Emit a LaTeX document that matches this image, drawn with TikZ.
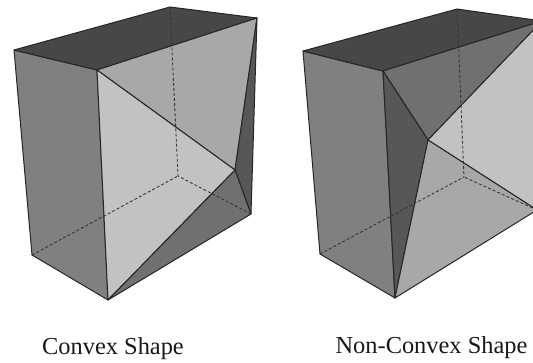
\documentclass[tikz,border=0pt]{standalone}
\usepackage{fontspec}
\setmainfont{Liberation Serif}
\colorlet{facetop}{black!72}
\colorlet{faceside}{black!50}
\colorlet{facelight}{black!24}
\colorlet{facemid}{black!34}
\colorlet{facedark}{black!66}
\colorlet{facelow}{black!56}
\colorlet{edgeline}{black!85}
\begin{document}
\begin{tikzpicture}[
    x=0.75pt, y=-0.75pt,
    face/.style={
        draw=edgeline, line width=0.75pt, line join=round
    },
    hidden/.style={
        draw=black!80, line width=0.65pt, dash pattern=on 2.2pt off 1.6pt
    },
    caption/.style={
        font=\fontsize{18.3}{22}\selectfont, text=black!90, anchor=base
    }
]
\useasboundingbox (0,0) rectangle (533,363);
\clip (0,0) rectangle (533,363);

% ===== Corners, convex =====
\coordinate (a1) at (14,50);
\coordinate (b1) at (97,70);
\coordinate (c1) at (257,18);
\coordinate (d1) at (170,7);
\coordinate (e1) at (108,300);
\coordinate (f1) at (32,255);
\coordinate (g1) at (251,214);
\coordinate (h1) at (178,176);
\coordinate (i1) at (235,170);

% ===== Corners, non-convex =====
\coordinate (a2) at (303,51);
\coordinate (b2) at (383,71);
\coordinate (c2) at (542,21);
\coordinate (d2) at (457,9);
\coordinate (e2) at (395,298);
\coordinate (f2) at (320,254);
\coordinate (g2) at (537,210);
\coordinate (h2) at (464,177);
\coordinate (i2) at (428,140);

% ===== Convex faces =====
\draw[face, fill=faceside]  (a1) -- (b1) -- (e1) -- (f1) -- cycle;
\draw[face, fill=facetop]   (a1) -- (d1) -- (c1) -- (b1) -- cycle;
\draw[face, fill=facemid]   (b1) -- (c1) -- (i1) -- cycle;
\draw[face, fill=facelight] (b1) -- (i1) -- (e1) -- cycle;
\draw[face, fill=facedark]  (c1) -- (g1) -- (i1) -- cycle;
\draw[face, fill=facelow]   (e1) -- (g1) -- (i1) -- cycle;

% ===== Non-convex faces =====
\draw[face, fill=faceside]  (a2) -- (b2) -- (e2) -- (f2) -- cycle;
\draw[face, fill=facetop]   (a2) -- (d2) -- (c2) -- (b2) -- cycle;
\draw[face, fill=facelow]   (b2) -- (c2) -- (i2) -- cycle;
\draw[face, fill=facedark]  (b2) -- (i2) -- (e2) -- cycle;
\draw[face, fill=facelight] (i2) -- (c2) -- (g2) -- cycle;
\draw[face, fill=facemid]   (i2) -- (g2) -- (e2) -- cycle;

% ===== Hidden edges =====
\draw[hidden] (d1) -- (h1);
\draw[hidden] (f1) -- (h1);
\draw[hidden] (g1) -- (h1);
\draw[hidden] (d2) -- (h2);
\draw[hidden] (f2) -- (h2);
\draw[hidden] (g2) -- (h2);

% ===== Captions =====
\node[caption] (convex) at (113,355) {Convex Shape};
\node[caption] (nonconvex) at (431.5,354) {Non-Convex Shape};

\end{tikzpicture}
\end{document}
